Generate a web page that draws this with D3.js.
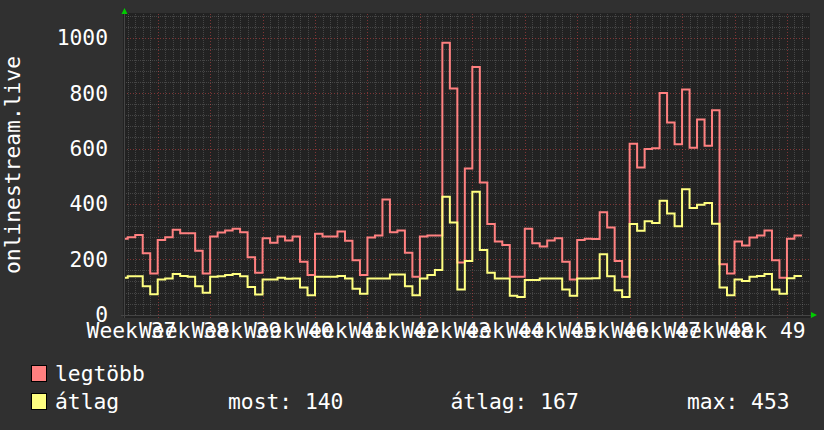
<!DOCTYPE html>
<html><head><meta charset="utf-8">
<script src="https://cdn.jsdelivr.net/npm/d3@7"></script>
<style>html,body{margin:0;padding:0;background:#303030;}svg{display:block;}</style>
</head><body>
<script>
// Daily values, day -5 .. day 85 (day 0 = first week boundary on the chart)
const firstDay = -5;
const legtobb = [274,280,288,222,149,
 270,280,307,294,294,231,149,
 282,297,304,310,298,207,151,
 276,260,282,268,282,191,143,
 292,282,282,300,267,197,143,
 279,286,416,298,304,224,137,
 282,286,286,982,817,188,528,
 894,477,327,264,252,137,137,
 310,258,246,268,276,191,127,
 270,274,273,370,315,194,137,
 617,531,598,601,800,694,615,
 813,603,705,610,738,182,149,
 264,250,279,286,304,197,133,
 274,286];
const atlag = [133,139,139,103,74,
 127,131,147,140,137,103,79,
 137,139,143,147,139,100,73,
 127,127,133,130,131,98,70,
 137,137,137,140,131,94,76,
 131,131,131,145,145,103,70,
 131,143,161,426,333,91,194,
 444,234,151,131,131,68,64,
 125,125,131,131,131,91,68,
 131,131,132,218,139,88,64,
 327,303,337,331,411,365,319,
 453,385,397,403,328,98,70,
 127,122,137,140,147,91,76,
 132,140];
const weekLabels = ["Week 37","Week 38","Week 39","Week 40","Week 41","Week 42","Week 43",
 "Week 44","Week 45","Week 46","Week 47","Week 48","Week 49"];
const yTicks = [0,200,400,600,800,1000];
const yTitle = "onlinestream.live";
const legendNames = ["legtöbb","átlag"];
const stats = ["most: 140","átlag: 167","max: 453"];
const dataStart = -4.35;

const W = 824, H = 430;
const font = "'DejaVu Sans Mono', monospace";
const fs = 21.3;
const svg = d3.select("body").append("svg").attr("width", W).attr("height", H);
svg.append("rect").attr("width", W).attr("height", H).attr("fill", "#303030");

const cx0 = 123, cx1 = 810, cy0 = 13, cy1 = 318;
const x = d3.scaleLinear().domain([0, 84]).range([157.7, 157.7 + 84 * 7.491]);
const y = d3.scaleLinear().domain([0, 1000]).range([314.7, 37.7]);

svg.append("rect").attr("x", cx0).attr("y", cy0).attr("width", cx1 - cx0).attr("height", cy1 - cy0).attr("fill", "#222222");

const g = svg.append("g");
const minorCol = "rgba(255,255,255,0.16)", majorCol = "rgba(255,80,80,0.42)";
// minor grid
const dmin = Math.ceil(x.invert(cx0)), dmax = Math.floor(x.invert(cx1 - 1));
const minorDays = d3.range(dmin, dmax + 1).filter(d => d % 7 !== 0);
g.selectAll(".mv").data(minorDays).enter().append("line")
  .attr("x1", d => Math.round(x(d)) + 0.5).attr("x2", d => Math.round(x(d)) + 0.5)
  .attr("y1", cy0 + 1).attr("y2", 315)
  .attr("stroke", minorCol).attr("stroke-dasharray", "1,1");
const minorVals = d3.range(40, 1100, 40).filter(v => v % 200 !== 0 && y(v) > cy0);
g.selectAll(".mh").data(minorVals).enter().append("line")
  .attr("x1", cx0 + 1).attr("x2", cx1)
  .attr("y1", v => Math.round(y(v)) + 0.5).attr("y2", v => Math.round(y(v)) + 0.5)
  .attr("stroke", minorCol).attr("stroke-dasharray", "1,1");
// major grid
const majorDays = d3.range(0, 85, 7);
g.selectAll(".Mv").data(majorDays).enter().append("line")
  .attr("x1", d => Math.round(x(d)) + 0.5).attr("x2", d => Math.round(x(d)) + 0.5)
  .attr("y1", cy0 + 1).attr("y2", cy1)
  .attr("stroke", majorCol).attr("stroke-dasharray", "1,2");
g.selectAll(".Mh").data(yTicks.filter(v => v > 0)).enter().append("line")
  .attr("x1", cx0 + 1).attr("x2", cx1)
  .attr("y1", v => Math.round(y(v)) + 0.5).attr("y2", v => Math.round(y(v)) + 0.5)
  .attr("stroke", majorCol).attr("stroke-dasharray", "1,2");

// axes lines
svg.append("line").attr("x1", cx0 - 2).attr("x2", 812).attr("y1", 315.5).attr("y2", 315.5).attr("stroke", "#454545");
svg.append("line").attr("x1", 124.5).attr("x2", 124.5).attr("y1", 318).attr("y2", 12).attr("stroke", "#454545");
svg.append("path").attr("d", "M121.5,14 L127.5,14 L124.5,8 Z").attr("fill", "#00cc00");
svg.append("path").attr("d", "M811,312 L811,318 L817,315 Z").attr("fill", "#00cc00");

// data lines
svg.append("clipPath").attr("id", "clip").append("rect")
  .attr("x", x(dataStart)).attr("y", cy0).attr("width", cx1 - x(dataStart)).attr("height", cy1 - cy0);
function pts(arr) {
  const p = arr.map((v, i) => [firstDay + i, v]);
  p.push([firstDay + arr.length, arr[arr.length - 1]]);
  return p;
}
const line = d3.line().x(d => x(d[0])).y(d => y(d[1])).curve(d3.curveStepAfter);
const colors = ["#ff8080", "#ffff80"];
[legtobb, atlag].forEach((arr, i) => {
  svg.append("path").attr("clip-path", "url(#clip)").attr("d", line(pts(arr)))
    .attr("fill", "none").attr("stroke", colors[i]).attr("stroke-width", 2);
});

// y tick labels
svg.selectAll(".yl").data(yTicks).enter().append("text")
  .attr("x", 108).attr("y", v => y(v) + 7.5).attr("text-anchor", "end")
  .attr("font-family", font).attr("font-size", fs).attr("fill", "#ffffff").text(v => v);
// x labels
svg.selectAll(".xl").data(weekLabels).enter().append("text")
  .attr("x", (d, i) => x(-3.5 + 7 * i)).attr("y", 337.5).attr("text-anchor", "middle")
  .attr("font-family", font).attr("font-size", fs).attr("fill", "#ffffff").text(d => d);
// y title
svg.append("text").attr("transform", "translate(19.5,165) rotate(-90)").attr("text-anchor", "middle")
  .attr("font-family", font).attr("font-size", fs).attr("fill", "#ffffff").text(yTitle);

// legend
const ly = [381, 409];
legendNames.forEach((n, i) => {
  svg.append("rect").attr("x", 31.5).attr("y", ly[i] - 15.5).attr("width", 15).attr("height", 16)
    .attr("fill", colors[i]).attr("stroke", "#000").attr("stroke-width", 1);
  svg.append("text").attr("x", 55).attr("y", ly[i]).attr("font-family", font).attr("font-size", fs)
    .attr("fill", "#ffffff").text(n);
});
const sx = [228, 450.5, 687];
stats.forEach((s, i) => {
  svg.append("text").attr("x", sx[i]).attr("y", ly[1]).attr("font-family", font).attr("font-size", fs)
    .attr("fill", "#ffffff").text(s);
});
</script>
</body></html>
